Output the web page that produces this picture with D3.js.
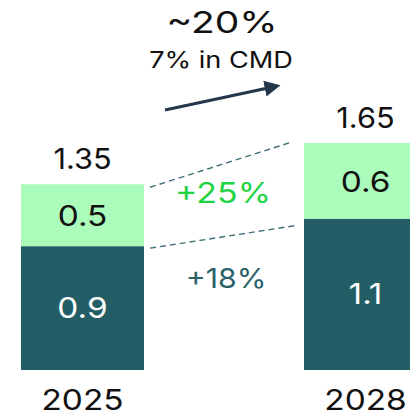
<!DOCTYPE html>
<html>
<head>
<meta charset="utf-8">
<script src="https://cdn.jsdelivr.net/npm/d3@7"></script>
<style>
  html, body { margin: 0; padding: 0; background: #ffffff; }
  svg { display: block; }
  text { font-family: Inter, "Liberation Sans", sans-serif; }
</style>
</head>
<body>
<svg id="chart" width="410" height="418"></svg>
<script>
// Stacked revenue bars, 2025 vs 2028
const years = ["2025", "2028"];
const baseValues = [0.9, 1.1];      // dark lower segment
const upperValues = [0.5, 0.6];     // light upper segment
const totals = [1.35, 1.65];        // stack totals shown above bars
const growthLabels = ["+25%", "+18%"];
const headline = "~20%";
const subline = "7% in CMD";

const colors = {
  base: "#235d65",
  upper: "#abfcba",
  upGrowth: "#1fd443",
  baseGrowth: "#2b6269",
  dash: "#3f6f78",
  arrow: "#24364a",
  ink: "#111111"
};

const svg = d3.select("#chart");

const x = d3.scaleBand()
  .domain(years)
  .range([21, 427])
  .paddingInner(0.5654)
  .paddingOuter(0);

const y = d3.scaleLinear()
  .domain([0, 1.65])
  .range([370, 143]);

const bw = x.bandwidth();

const rows = years.map((yr, i) => ({
  year: yr, base: baseValues[i], upper: upperValues[i], total: totals[i]
}));

// centred label with a slight horizontal widening of the glyphs
function wideText(sel, cx, cy, sx) {
  return sel
    .attr("x", 0).attr("y", 0)
    .attr("text-anchor", "middle")
    .attr("transform", (d, i) =>
      `translate(${typeof cx === "function" ? cx(d, i) : cx},${typeof cy === "function" ? cy(d, i) : cy}) scale(${sx},1)`);
}

// dark base segment
svg.selectAll("rect.base").data(rows).join("rect")
  .attr("class", "base")
  .attr("x", d => x(d.year))
  .attr("y", d => y(d.base))
  .attr("width", bw)
  .attr("height", d => y(0) - y(d.base))
  .attr("fill", colors.base);

// light upper segment, up to the stated total
svg.selectAll("rect.upper").data(rows).join("rect")
  .attr("class", "upper")
  .attr("x", d => x(d.year))
  .attr("y", d => y(d.total))
  .attr("width", bw)
  .attr("height", d => y(d.base) - y(d.total))
  .attr("fill", colors.upper);

// segment value labels
svg.selectAll("text.baseVal").data(rows).join("text")
  .attr("class", "baseVal")
  .call(wideText, d => x(d.year) + bw / 2, d => (y(0) + y(d.base)) / 2 + 10, 1.15)
  .attr("font-size", 29)
  .attr("fill", "#ffffff")
  .text(d => d.base);

svg.selectAll("text.upperVal").data(rows).join("text")
  .attr("class", "upperVal")
  .call(wideText, d => x(d.year) + bw / 2, d => (y(d.base) + y(d.total)) / 2 + 11, 1.15)
  .attr("font-size", 29)
  .attr("fill", colors.ink)
  .text(d => d.upper);

// totals above bars
svg.selectAll("text.total").data(rows).join("text")
  .attr("class", "total")
  .call(wideText, d => x(d.year) + bw / 2, d => y(d.total) - 15, 1.06)
  .attr("font-size", 29)
  .attr("fill", colors.ink)
  .text(d => d.total.toFixed(2));

// year axis labels
const xAxis = d3.axisBottom(x).tickSize(0).tickPadding(0);
const gx = svg.append("g").attr("transform", "translate(0,410)").call(xAxis);
gx.select(".domain").remove();
gx.selectAll("text")
  .attr("font-size", 29)
  .attr("fill", colors.ink)
  .attr("font-family", "Inter, 'Liberation Sans', sans-serif")
  .attr("dy", 0)
  .attr("y", 0)
  .attr("transform", "scale(1.15,1)");

// dashed connectors between the two bars
const x1 = x(years[0]) + bw + 6;
const x2 = x(years[1]) - 12;
const connectors = [
  [[x1, y(totals[0]) + 3], [x2, y(totals[1]) - 1]],
  [[x1, y(baseValues[0]) + 2], [x2 + 3, y(baseValues[1]) + 7]]
];
svg.selectAll("line.conn").data(connectors).join("line")
  .attr("class", "conn")
  .attr("x1", d => d[0][0]).attr("y1", d => d[0][1])
  .attr("x2", d => d[1][0]).attr("y2", d => d[1][1])
  .attr("stroke", colors.dash)
  .attr("stroke-width", 1.4)
  .attr("stroke-dasharray", "6,4");

// growth labels between bars
const midX = (x(years[0]) + bw + x(years[1])) / 2;
svg.append("text")
  .call(wideText, midX - 1, 203, 1.17)
  .attr("font-size", 29)
  .attr("fill", colors.upGrowth)
  .text(growthLabels[0]);
svg.append("text")
  .call(wideText, midX + 2, 288, 1.12)
  .attr("font-size", 27)
  .attr("fill", colors.baseGrowth)
  .text(growthLabels[1]);

// headline growth and arrow
svg.append("text")
  .call(wideText, 222, 33, 1.3)
  .attr("font-size", 30)
  .attr("fill", colors.ink)
  .text(headline);
svg.append("text")
  .call(wideText, 221, 68, 1.18)
  .attr("font-size", 23)
  .attr("fill", colors.ink)
  .text(subline);

svg.append("defs").append("marker")
  .attr("id", "head")
  .attr("viewBox", "0 0 10 10")
  .attr("refX", 2).attr("refY", 5)
  .attr("markerWidth", 5).attr("markerHeight", 5)
  .attr("orient", "auto")
  .append("path")
  .attr("d", "M0,0 L10,5 L0,10 Z")
  .attr("fill", colors.arrow);

svg.append("line")
  .attr("x1", 165).attr("y1", 110)
  .attr("x2", 268).attr("y2", 88)
  .attr("stroke", colors.arrow)
  .attr("stroke-width", 3.2)
  .attr("marker-end", "url(#head)");
</script>
</body>
</html>
